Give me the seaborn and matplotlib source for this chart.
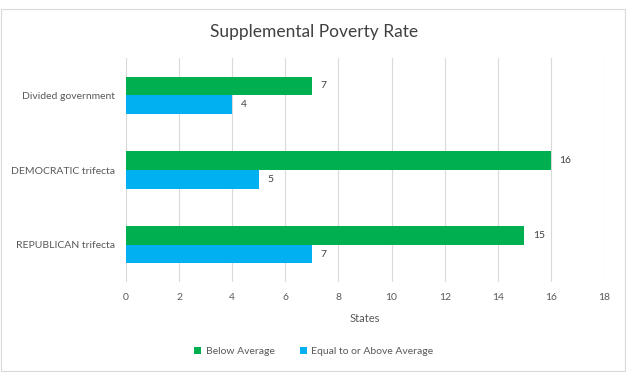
import pandas as pd
import matplotlib.pyplot as plt
import seaborn as sns

# chart data
categories = ["Divided government", "DEMOCRATIC trifecta", "REPUBLICAN trifecta"]
below_avg = [7, 16, 15]
above_avg = [4, 5, 7]
series_names = ["Below Average", "Equal to or Above Average"]
colors = ["#00B050", "#00B0F0"]

df = pd.DataFrame({
    "category": categories * 2,
    "states": below_avg + above_avg,
    "series": [series_names[0]] * 3 + [series_names[1]] * 3,
})

sns.set_style("white")
plt.rcParams["font.family"] = ["Lato", "DejaVu Sans"]

fig = plt.figure(figsize=(6.44, 3.79), dpi=100)
ax = fig.add_axes([0.1957, 0.2559, 0.7422, 0.5911])

sns.barplot(
    data=df, y="category", x="states", hue="series",
    order=categories, hue_order=series_names,
    palette=colors, width=0.5, orient="h", ax=ax,
    saturation=1, edgecolor="none",
)

for c in ax.containers:
    ax.bar_label(c, padding=6, fontsize=7.5, color="#404040")

ax.set_xlim(0, 18)
ax.set_xticks(range(0, 19, 2))
ax.grid(axis="x", color="#D9D9D9", linewidth=0.8)
ax.set_axisbelow(True)
for s in ax.spines.values():
    s.set_visible(False)
ax.tick_params(axis="both", length=0, labelsize=7.5, labelcolor="#595959", pad=8)
ax.set_ylabel("")
ax.set_xlabel("States", fontsize=8, color="#595959", labelpad=8)

fig.text(0.487, 0.916, "Supplemental Poverty Rate", ha="center", va="center",
         fontsize=12.5, color="#404040")

ax.legend(
    loc="center", bbox_to_anchor=(0.487, 0.072), bbox_transform=fig.transFigure,
    ncol=2, frameon=False, fontsize=7.5, labelcolor="#595959",
    handlelength=0.7, handleheight=0.7, handletextpad=0.4, columnspacing=2.4,
)

# light border around the chart area like the original
fig.patches.append(plt.Rectangle((0.0023, 0.021), 0.968, 0.954, transform=fig.transFigure,
                                 fill=False, edgecolor="#D9D9D9", linewidth=0.8))

fig.savefig("out.png", dpi=100)
